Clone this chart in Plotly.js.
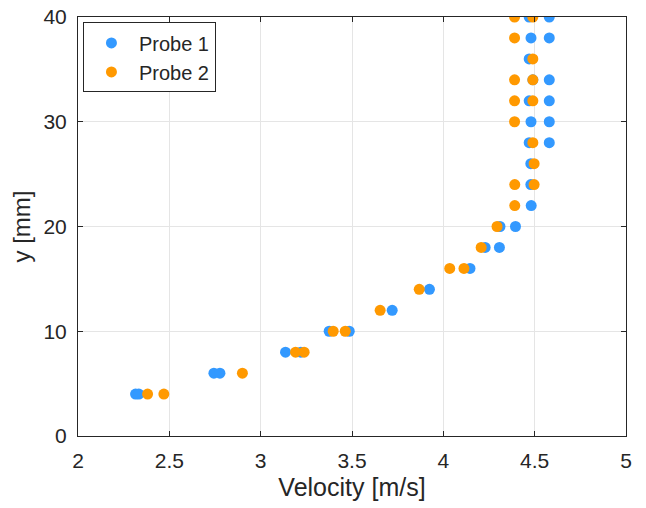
<!DOCTYPE html>
<html>
<head>
<meta charset="utf-8">
<script src="https://cdn.plot.ly/plotly-3.0.1.min.js"></script>
<style>html,body{margin:0;padding:0;background:#fff;}#chart{width:646px;height:508px;}</style>
</head>
<body>
<div id="chart"></div>
<script>
const probe1Velocity = [2.315, 2.333, 2.744, 2.777, 3.136, 3.22, 3.375, 3.485, 3.72, 3.924, 4.146, 4.229, 4.307, 4.31, 4.395, 4.481, 4.479, 4.479, 4.47, 4.58, 4.48, 4.58, 4.47, 4.58, 4.49, 4.58, 4.47, 4.48, 4.58, 4.47, 4.58];
const probe1Y        = [4, 4, 6, 6, 8, 8, 10, 10, 12, 14, 16, 18, 18, 20, 20, 22, 24, 26, 28, 28, 30, 30, 32, 32, 34, 34, 36, 38, 38, 40, 40];
const probe2Velocity = [2.381, 2.47, 2.90, 3.191, 3.238, 3.397, 3.463, 3.654, 3.868, 4.035, 4.113, 4.207, 4.294, 4.391, 4.391, 4.497, 4.497, 4.49, 4.39, 4.39, 4.49, 4.39, 4.49, 4.49, 4.39, 4.39, 4.49];
const probe2Y        = [4, 4, 6, 8, 8, 10, 10, 12, 14, 16, 16, 18, 20, 22, 24, 24, 26, 28, 30, 32, 32, 34, 34, 36, 38, 40, 40];
const seriesNames = ["Probe 1", "Probe 2"];
const xTicks = [2, 2.5, 3, 3.5, 4, 4.5, 5];
const yTicks = [0, 10, 20, 30, 40];

const font = "Liberation Sans, Arial, Helvetica, sans-serif";
const traces = [
  {x: probe1Velocity, y: probe1Y, name: seriesNames[0], type: "scatter", mode: "markers",
   marker: {color: "#3399ff", size: 11, line: {width: 0}}},
  {x: probe2Velocity, y: probe2Y, name: seriesNames[1], type: "scatter", mode: "markers",
   marker: {color: "#ff9900", size: 11, line: {width: 0}}}
];
const axisCommon = {
  showline: true, mirror: "ticks", linecolor: "#262626", linewidth: 1,
  ticks: "inside", ticklen: 5, tickcolor: "#262626",
  showgrid: true, gridcolor: "#e5e5e5", gridwidth: 1, zeroline: false,
  tickfont: {family: font, size: 21, color: "#262626"}
};
const layout = {
  width: 646, height: 508,
  margin: {l: 78, r: 20, t: 17, b: 72},
  paper_bgcolor: "#ffffff", plot_bgcolor: "#ffffff",
  showlegend: true,
  legend: {x: 0.009, y: 0.987, xanchor: "left", yanchor: "top",
           bgcolor: "#ffffff", bordercolor: "#262626", borderwidth: 1,
           itemwidth: 45, tracegroupgap: 0,
           font: {family: font, size: 20, color: "#262626"}},
  xaxis: Object.assign({}, axisCommon, {
    range: [2, 5], tickvals: xTicks, ticktext: xTicks.map(String),
    ticklabelstandoff: 6,
    title: {text: "Velocity [m/s]", font: {family: font, size: 25, color: "#262626"}, standoff: 7}
  }),
  yaxis: Object.assign({}, axisCommon, {
    range: [0, 40], tickvals: yTicks, ticktext: yTicks.map(String),
    ticklabelstandoff: 6,
    title: {text: "y [mm]", font: {family: font, size: 24, color: "#262626"}, standoff: 6}
  })
};
Plotly.newPlot("chart", traces, layout, {displayModeBar: false, staticPlot: true});
</script>
</body>
</html>
